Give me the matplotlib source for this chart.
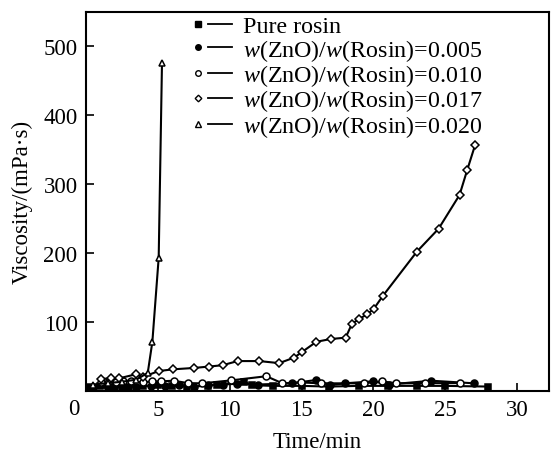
import matplotlib
matplotlib.use("Agg")
import matplotlib.pyplot as plt
from matplotlib.lines import Line2D
from matplotlib.legend_handler import HandlerTuple

plt.rcParams['font.family'] = ['Liberation Serif', 'DejaVu Serif']
plt.rcParams['mathtext.fontset'] = 'custom'
plt.rcParams['mathtext.rm'] = 'Liberation Serif'
plt.rcParams['mathtext.it'] = 'Liberation Serif:italic'
plt.rcParams['font.size'] = 16.5

# data (time in min, viscosity in mPa·s)
t_pure = [0.3, 1.0, 2.0, 3.0, 4.0, 5.0, 6.0, 7.0, 8.5, 9.1, 11.0, 11.55, 13.0, 15.0, 16.9, 19.0, 21.0, 23.0, 25.0, 28.0]
v_pure = [6, 7, 6, 6, 7, 8, 7, 6, 7, 9, 13, 8, 7, 7, 6, 7, 7, 7, 7, 6]

t_005 = [0.5, 1.5, 2.5, 3.5, 4.5, 5.5, 6.5, 7.5, 8.5, 9.5, 10.5, 12.0, 14.3, 16.0, 17.0, 18.0, 19.96, 21.07, 24.03, 27.03]
v_005 = [5, 4, 6, 6, 7, 7, 8, 6, 8, 9, 10, 9, 10.7, 15.5, 8, 10.7, 13.6, 9, 14.5, 10.7]

t_010 = [1.02, 1.6, 2.1, 2.6, 3.1, 4.0, 4.6, 5.2, 6.1, 7.1, 8.1, 10.1, 12.55, 13.67, 14.95, 16.33, 19.33, 20.6, 21.6, 23.6, 26.0]
v_010 = [12, 14, 13, 13.6, 14.5, 12, 13.6, 13.6, 14.5, 11, 10.7, 15, 21, 10.7, 12, 10.7, 10.7, 13.6, 10.7, 11, 11]

t_017 = [1.02, 1.71, 2.31, 3.51, 3.97, 5.06, 6.05, 7.5, 8.54, 9.51, 10.55, 12.06, 13.44, 14.48, 15.02, 16.03, 17.03,
         18.07, 18.5, 19.0, 19.57, 20.03, 20.67, 23.03, 24.53, 25.99, 26.52, 27.08]
v_017 = [17, 18, 18, 24, 20, 28.5, 31, 33, 35, 37, 43, 43, 40, 48, 56, 71, 75,
         77, 97, 104, 111, 119, 138, 202, 235, 284, 320, 357]

t_020 = [0.5, 1.5, 2.5, 3.5, 4.3, 4.62, 5.06, 5.29]
v_020 = [9, 11, 13, 16, 26, 71, 193, 476]

labels = ['Pure rosin',
          r'$w$(ZnO)/$w$(Rosin)=0.005',
          r'$w$(ZnO)/$w$(Rosin)=0.010',
          r'$w$(ZnO)/$w$(Rosin)=0.017',
          r'$w$(ZnO)/$w$(Rosin)=0.020']

fig = plt.figure(figsize=(5.51, 4.52), dpi=100)
ax = fig.add_axes([0.156, 0.1334, 0.84, 0.8385])

series = [
    (t_pure, v_pure, 's', 'black', 5),
    (t_005, v_005, 'o', 'black', 5),
    (t_010, v_010, 'o', 'white', 5),
    (t_017, v_017, 'D', 'white', 4.2),
    (t_020, v_020, '^', 'white', 5),
]

handles = []
for t, v, m, fc, ms in series:
    ax.plot(t, v, color='black', lw=1.5, marker=m, markersize=ms,
            markerfacecolor=fc, markeredgecolor='black', markeredgewidth=1.1)
    mk = Line2D([], [], ls='none', marker=m, markersize=ms * 0.8,
                markerfacecolor=fc, markeredgecolor='black', markeredgewidth=1.0)
    ln = Line2D([], [], color='black', lw=1.3)
    handles.append((mk, ln))

ax.legend(handles, labels, handler_map={tuple: HandlerTuple(ndivide=None, pad=-0.08)},
          loc='upper left', bbox_to_anchor=(0.212, 0.997), frameon=False,
          fontsize=17.3, handlelength=1.9, handletextpad=0.46, labelspacing=-0.02,
          borderpad=0.1, borderaxespad=0.0)

ax.set_xlim(0, 32.2)
ax.set_ylim(0, 550)
ax.set_xticks([5, 10, 15, 20, 25, 30])
ax.set_yticks([100, 200, 300, 400, 500])
ax.text(-0.015, -0.02, '0', transform=ax.transAxes, ha='right', va='top')
ax.tick_params(direction='in', length=6, width=1.2, pad=6)
for s in ax.spines.values():
    s.set_linewidth(1.5)

ax.set_xlabel('Time/min', labelpad=8)
ax.set_ylabel('Viscosity/(mPa·s)', labelpad=8)

fig.savefig('out.png', dpi=100)
